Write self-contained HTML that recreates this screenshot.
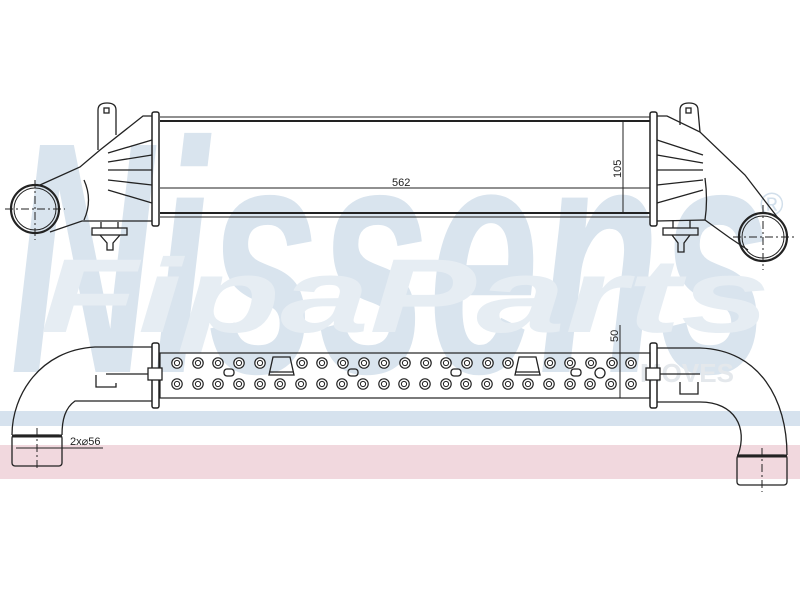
<!DOCTYPE html>
<html><head><meta charset="utf-8"><style>html,body{margin:0;padding:0;background:#fff}svg{display:block}</style></head>
<body>
<svg width="800" height="600" viewBox="0 0 800 600" xmlns="http://www.w3.org/2000/svg" font-family="Liberation Sans, sans-serif">
<defs>
<g id="h"><circle r="5.2" fill="#fff" stroke="#222" stroke-width="1.2"/><circle r="2.6" fill="none" stroke="#222" stroke-width="1"/></g>
</defs>
<!-- watermark -->
<text x="10" y="372" font-size="330" font-weight="bold" font-style="italic" fill="#d9e4ee" textLength="760" lengthAdjust="spacingAndGlyphs">Nissens</text>
<text x="40" y="332" font-size="105" font-weight="bold" font-style="italic" fill="#e6edf3" textLength="730" lengthAdjust="spacingAndGlyphs">FipaParts</text>
<text x="760" y="215" font-size="32" fill="#d2dfeb">®</text>
<text x="640" y="382" font-size="26" font-weight="bold" fill="#e4e8ec">MOVES</text>
<rect x="0" y="411" width="800" height="15" fill="#d6e2ee"/>
<rect x="0" y="445" width="800" height="34" fill="#f1d8de"/>

<g fill="none" stroke="#222" stroke-width="1.3">
<line x1="160" y1="117" x2="650" y2="117" stroke-width="1"/>
<line x1="160" y1="121" x2="650" y2="121" stroke-width="2"/>
<line x1="160" y1="213" x2="650" y2="213" stroke-width="2"/>
<line x1="160" y1="217" x2="650" y2="217" stroke-width="1"/>
<line x1="160" y1="188" x2="650" y2="188" stroke-width="1"/>
<line x1="623" y1="121" x2="623" y2="213" stroke-width="1"/>
<rect x="152" y="112" width="7" height="114" rx="2" stroke-width="1.5"/>
<path d="M152 116 L143 116 L100 150 L80 167 L40 185"/>
<path d="M152 221 L82 221 L50 232"/>
<path d="M84 180 Q93 200 84 220"/>
<path d="M108 153 L152 140 M108 162 L152 155 M108 170 L152 170 M108 180 L152 185 M108 190 L152 203"/>
<path d="M98 150 L98 110 Q98 103 107 103 Q116 103 116 110 L116 135"/>
<rect x="104" y="108" width="5" height="5"/>
<circle cx="35" cy="209" r="24" stroke-width="2.2"/>
<circle cx="35" cy="209" r="21" stroke-width="1"/>
<path d="M5 209 H65 M35 180 V240" stroke-dasharray="8 3 2 3" stroke-width="1"/>
<rect x="92" y="228" width="35" height="7"/>
<path d="M101 228 V222 M118 228 V222 M100 235 L107 243 V250 H113 V243 L120 235"/>
<rect x="650" y="112" width="7" height="114" rx="2" stroke-width="1.5"/>
<path d="M657 116 L667 116 L700 132 L745 175 L778 218"/>
<path d="M657 221 L705 220 L730 238 L748 250"/>
<path d="M705 178 Q708 200 705 220"/>
<path d="M657 140 L703 155 M657 155 L703 163 M657 170 L703 170 M657 185 L703 180 M657 203 L703 190"/>
<path d="M680 125 L680 110 Q680 103 689 103 Q698 103 698 110 L700 132"/>
<rect x="686" y="108" width="5" height="5"/>
<circle cx="763" cy="237" r="24" stroke-width="2.2"/>
<circle cx="763" cy="237" r="21" stroke-width="1"/>
<path d="M733 237 H795 M763 205 V270" stroke-dasharray="8 3 2 3" stroke-width="1"/>
<rect x="663" y="228" width="35" height="7"/>
<path d="M673 228 V220 M690 228 V220 M672 235 L678 243 V252 H684 V243 L690 235"/>

<rect x="160" y="353" width="490" height="45" stroke-width="1.2"/>
<line x1="620" y1="325" x2="620" y2="398" stroke-width="1"/>
<rect x="152" y="343" width="7" height="65" rx="2" stroke-width="1.5"/>
<rect x="148" y="368" width="14" height="12" fill="#fff"/>
<path d="M148 374 L106 374 M96 375 V387 H116 V383"/>
<path d="M152 347 L95 347 C40 350 12 395 12 435"/>
<path d="M152 401 L75 401 C65 408 62 420 62 435"/>
<rect x="12" y="435" width="50" height="31" rx="3"/>
<line x1="12" y1="436" x2="62" y2="436" stroke-width="3"/>
<path d="M37 428 V470" stroke-dasharray="8 3 2 3" stroke-width="1"/>
<line x1="16" y1="448" x2="103" y2="448" stroke-width="1"/>
<rect x="650" y="343" width="7" height="65" rx="2" stroke-width="1.5"/>
<rect x="646" y="368" width="14" height="12" fill="#fff"/>
<path d="M660 374 L700 374 M680 382 V394 H698 V382"/>
<path d="M657 348 L700 348 C760 350 787 400 787 455"/>
<path d="M657 402 L700 402 C735 402 748 428 738 455"/>
<rect x="737" y="455" width="50" height="30" rx="3"/>
<line x1="737" y1="456" x2="787" y2="456" stroke-width="3"/>
<path d="M762 448 V492" stroke-dasharray="8 3 2 3" stroke-width="1"/>
<path d="M269 375 L273 357 L290 357 L294 375 Z M269 372 H294"/>
<path d="M515 375 L519 357 L536 357 L540 375 Z M515 372 H540"/>
<rect x="224" y="369" width="10" height="7" rx="3"/>
<rect x="348" y="369" width="10" height="7" rx="3"/>
<rect x="451" y="369" width="10" height="7" rx="3"/>
<rect x="571" y="369" width="10" height="7" rx="3"/>
<circle cx="600" cy="373" r="5"/>
</g>
<g>
<use href="#h" x="177" y="363"/><use href="#h" x="198" y="363"/><use href="#h" x="218" y="363"/><use href="#h" x="239" y="363"/><use href="#h" x="260" y="363"/>
<use href="#h" x="302" y="363"/><use href="#h" x="322" y="363"/><use href="#h" x="343" y="363"/><use href="#h" x="364" y="363"/><use href="#h" x="384" y="363"/><use href="#h" x="405" y="363"/><use href="#h" x="426" y="363"/><use href="#h" x="446" y="363"/><use href="#h" x="467" y="363"/><use href="#h" x="488" y="363"/><use href="#h" x="508" y="363"/>
<use href="#h" x="550" y="363"/><use href="#h" x="570" y="363"/><use href="#h" x="591" y="363"/><use href="#h" x="612" y="363"/><use href="#h" x="631" y="363"/>
<use href="#h" x="177" y="384"/><use href="#h" x="198" y="384"/><use href="#h" x="218" y="384"/><use href="#h" x="239" y="384"/><use href="#h" x="260" y="384"/><use href="#h" x="280" y="384"/><use href="#h" x="301" y="384"/><use href="#h" x="322" y="384"/><use href="#h" x="342" y="384"/><use href="#h" x="363" y="384"/><use href="#h" x="384" y="384"/><use href="#h" x="404" y="384"/><use href="#h" x="425" y="384"/><use href="#h" x="446" y="384"/><use href="#h" x="466" y="384"/><use href="#h" x="487" y="384"/><use href="#h" x="508" y="384"/><use href="#h" x="528" y="384"/><use href="#h" x="549" y="384"/><use href="#h" x="570" y="384"/><use href="#h" x="590" y="384"/><use href="#h" x="611" y="384"/><use href="#h" x="631" y="384"/>
</g>
<g fill="#222" font-size="11">
<text x="392" y="186">562</text>
<text transform="translate(621,178) rotate(-90)">105</text>
<text transform="translate(618,342) rotate(-90)">50</text>
<text x="70" y="445">2x⌀56</text>
</g>
</svg>
</body></html>
